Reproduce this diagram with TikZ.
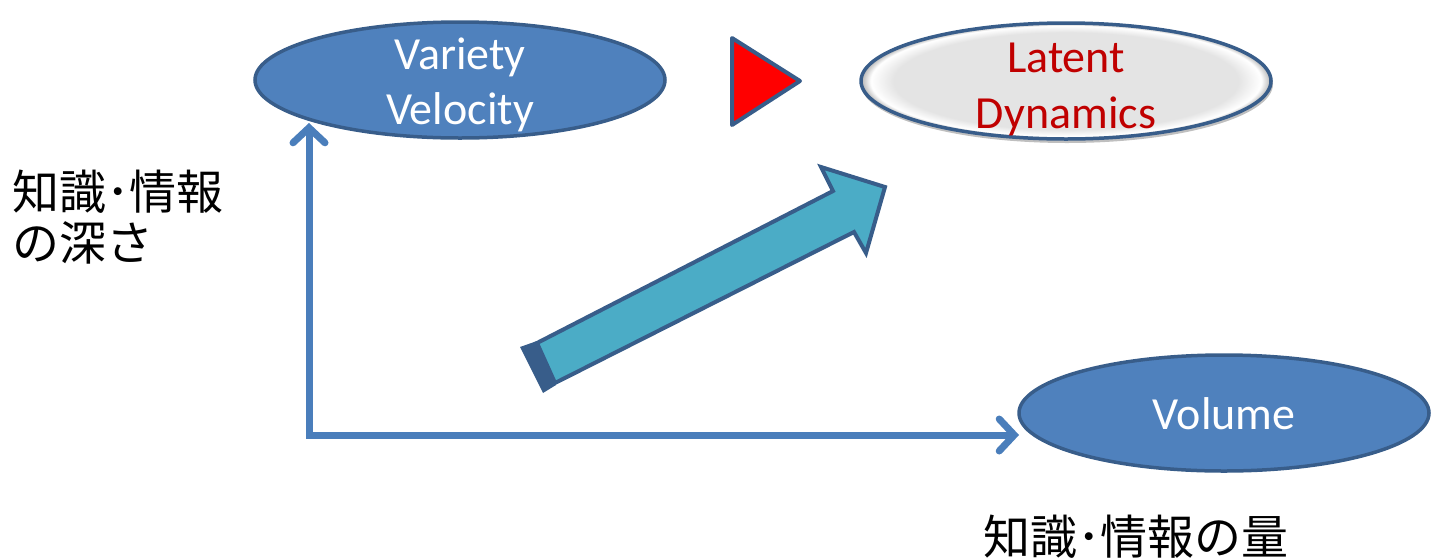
\documentclass[tikz,border=0pt]{standalone}
\usepackage{fontspec}
\setmainfont{Carlito}
\newfontfamily\jp{Noto Sans CJK JP}
\usetikzlibrary{shapes.geometric,arrows.meta}
\definecolor{bfill}{HTML}{4F81BD}
\definecolor{bline}{HTML}{385D8A}
\definecolor{axisc}{HTML}{4A7EBB}
\definecolor{ldred}{HTML}{C00000}
\definecolor{ldgray}{HTML}{E4E4E4}
\definecolor{arrfill}{HTML}{4BACC6}
\pgfdeclareradialshading{ldshade}{\pgfpoint{0bp}{0bp}}{color(0bp)=(ldgray); color(21bp)=(ldgray); color(23.8bp)=(white); color(25bp)=(gray!60); color(50bp)=(gray!60)}
\tikzset{
  ell/.style={ellipse, draw=bline, line width=3.5pt, fill=bfill, inner sep=0pt, minimum width=410pt, minimum height=116pt},
  whitetext/.style={text=white, font=\fontsize{46}{55}\selectfont, align=center},
  redtext/.style={text=ldred, font=\fontsize{46}{56}\selectfont, align=center},
  jptext/.style={font=\jp\fontsize{47}{51}\selectfont, align=left, inner sep=0pt},
  axisline/.style={draw=axisc, line width=7pt, {Straight Barb[length=15pt,width=32pt,line cap=round]}-{Straight Barb[length=15pt,width=32pt,line cap=round]}}
}
\begin{document}
\begin{tikzpicture}[x=1pt,y=-1pt]
\useasboundingbox (0,0) rectangle (1432,558);
% ellipses
\node[ell] (vv) at (460,80) {};
\node[whitetext] (vvtext) at (460,85) {Variety\\Velocity};
\fill[black!25] (1067,84) ellipse [x radius=206pt, y radius=59pt];
\node[ellipse, draw=bline, line width=3.5pt, shading=ldshade, inner sep=0pt, minimum width=410pt, minimum height=116pt] (ld) at (1066,81) {};
\node[redtext] (ldtext) at (1066,89) {Latent\\Dynamics};
\node[ell] (vol) at (1224,413) {};
\node[whitetext] (voltext) at (1224,414) {Volume};
% red triangle
\draw[bline, line width=4pt, line join=round, fill=red] (732,38) -- (800,81) -- (732,125) -- cycle;
% big arrow
\fill[bline] (520,347) -- (537,341) -- (556,385) -- (543,393) -- cycle;
\draw[bline, line width=4pt, fill=arrfill, line join=miter] (537,343) -- (833,191) -- (821,167) -- (885,187) -- (866,253) -- (854,232) -- (555,383) -- cycle;
% axes
\coordinate (ytip) at (309,123);
\coordinate (corner) at (309,435);
\coordinate (xtip) at (1019,435);
\draw[axisline] (ytip) -- (corner) -- (xtip);
% Japanese labels
\node[jptext, anchor=west] (depth) at (12,217) {知識･情報\\の深さ};
\node[jptext, anchor=center] (amount) at (1136,537) {知識･情報の量};
\end{tikzpicture}
\end{document}
